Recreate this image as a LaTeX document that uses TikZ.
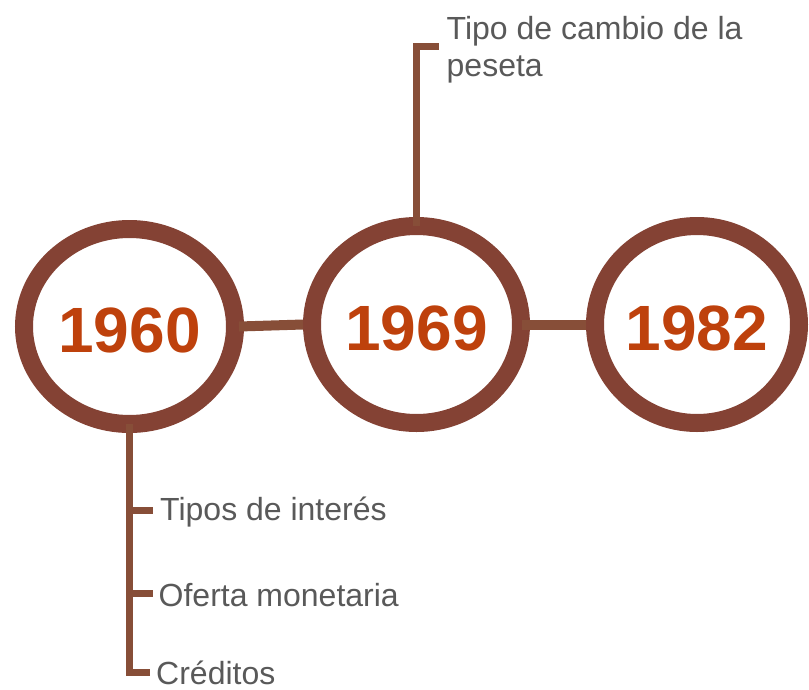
\documentclass[tikz,border=0pt]{standalone}
\usepackage{fontspec}
\setmainfont{Liberation Sans}
\usetikzlibrary{shapes.geometric}
\definecolor{ringc}{RGB}{132,66,52}
\definecolor{linkc}{RGB}{135,78,56}
\definecolor{yearc}{RGB}{190,65,12}
\definecolor{labc}{RGB}{89,89,89}
\begin{document}
\begin{tikzpicture}[x=1pt,y=-1pt,
  ring/.style={ellipse, draw=ringc, line width=18pt, inner sep=0pt, outer sep=0pt,
    font=\fontsize{64}{64}\selectfont\bfseries, text=yearc, text height=52pt, text depth=0pt},
  link/.style={draw=linkc, line width=10pt},
  tickline/.style={draw=linkc, line width=7pt},
  lab/.style={font=\fontsize{32}{37}\selectfont, text=labc, inner sep=0pt, anchor=base west,
    text height=23pt, text depth=0pt}]
\useasboundingbox (0,0) rectangle (809,689);
\node[ring, minimum width=211pt, minimum height=195pt] (c1) at (129.5,326.5) {1960};
\node[ring, minimum width=209pt, minimum height=197pt] (c2) at (416.5,324.5) {1969};
\node[ring, minimum width=204pt, minimum height=197pt] (c3) at (697,324.5) {1982};
\draw[link] ([xshift=4pt]c1.east) -- ([xshift=-9pt]c2.west);
\draw[link] ([xshift=1pt]c2.east) -- ([xshift=-9pt]c3.west);
% top label
\node[font=\fontsize{32}{37}\selectfont, text=labc, inner sep=0pt, anchor=base west, align=left]
  (top) at (446.5,76) {Tipo de cambio de la\\peseta};
\coordinate (t1) at (439,46);
\draw[tickline] (c2.north) |- (t1);
% bottom labels
\node[lab] (l1) at (160,520.5) {Tipos de interés};
\node[lab] (l2) at (158.5,606) {Oferta monetaria};
\node[lab] (l3) at (156,684.5) {Créditos};
\coordinate (b3) at (150,672);
\draw[tickline] (c1.south) |- (b3);
\draw[tickline] (c1.south |- 0,510) -- (153,510);
\draw[tickline] (c1.south |- 0,593) -- (153,593);
\end{tikzpicture}
\end{document}
